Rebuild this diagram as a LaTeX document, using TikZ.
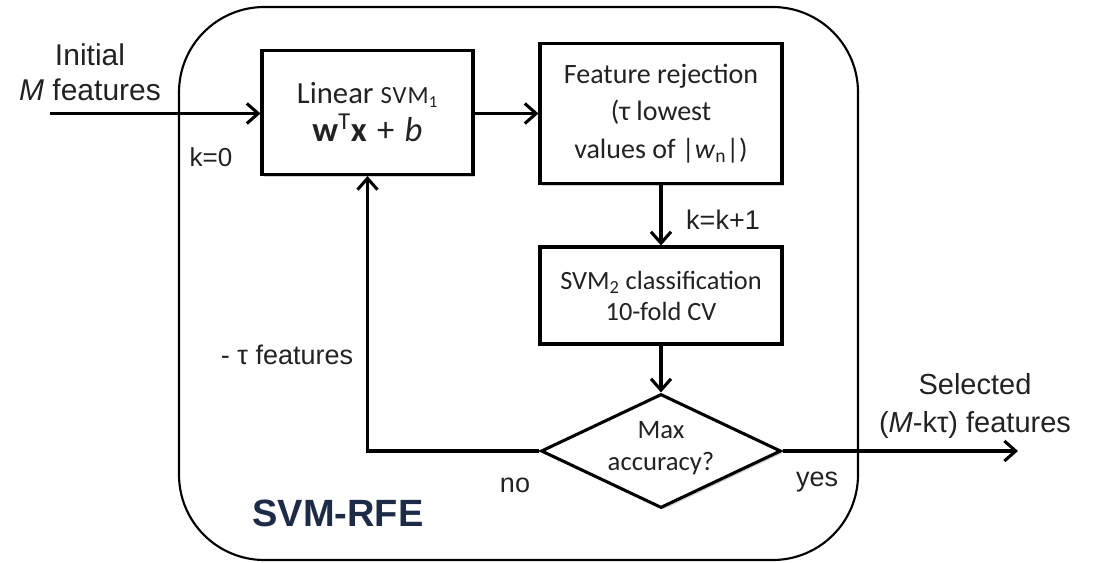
\documentclass[tikz,border=0pt]{standalone}
\usepackage{fontspec}
\setmainfont{Carlito}
\newfontfamily\labelfont{Liberation Sans}
\usetikzlibrary{arrows.meta,shapes.geometric,shadows}
\definecolor{rfeblue}{HTML}{1E2B47}
\definecolor{txt}{HTML}{222222}

\begin{document}
\begin{tikzpicture}[x=0.75pt,y=-0.75pt,
  ink/.style={draw=black, line width=2.3pt},
  boxshadow/.style={drop shadow={shadow xshift=1.6pt, shadow yshift=-1.6pt, opacity=0.3, fill=black!60}},
  procbox/.style={ink, fill=white, align=center, inner sep=0pt, text=txt, boxshadow},
  decision/.style={ink, diamond, fill=white, inner sep=0pt, minimum width=180pt, minimum height=85.5pt, boxshadow},
  flow/.style={line width=2.3pt, -{Straight Barb[length=8.5pt,width=15pt]}},
  note/.style={font=\labelfont\fontsize{20.25pt}{24pt}\selectfont, text=txt, align=center, inner sep=0pt}
]
\useasboundingbox (0,0) rectangle (1099,563);

% SVM-RFE frame
\draw[line width=1.6pt, rounded corners=64pt] (179,7) rectangle (858,560);
\node[font=\labelfont\bfseries\fontsize{28.5pt}{30pt}\selectfont, text=rfeblue, inner sep=0pt] (rfe) at (338,513) {SVM-RFE};

% process steps
\node[procbox, minimum width=158.25pt, minimum height=93pt,
      font=\fontsize{23pt}{28.5pt}\selectfont] (svm1) at (367.5,112.5)
  {Linear {\fontsize{18.5pt}{20pt}\selectfont\addfontfeature{LetterSpace=4}SVM}{\fontsize{18pt}{20pt}\selectfont\textsubscript{1}}\\
   {\fontsize{26pt}{28.5pt}\selectfont\textbf{w}\textsuperscript{T}\textbf{x}\hspace{0.3em}+\hspace{0.3em}\textit{b}}};
\node[procbox, minimum width=181.5pt, minimum height=105pt,
      font=\fontsize{21pt}{28pt}\selectfont] (reject) at (661,113.5)
  {Feature rejection\\(τ lowest\\values of |\textit{w}\textsubscript{n}|)};
\node[procbox, minimum width=181.5pt, minimum height=72.75pt,
      font=\fontsize{19.75pt}{23.25pt}\selectfont] (svm2) at (661,295.5)
  {SVM\textsubscript{2} classification\\10-fold CV};
\node[decision] (dec) at (661,451) {};
\node[font=\fontsize{20pt}{24pt}\selectfont, text=txt, align=center, inner sep=0pt] (dectext) at ([yshift=2pt]dec.center) {Max\\accuracy?};

% free ends of the input and output arrows
\coordinate (in) at (50,113.5);
\coordinate (out) at (1018,451);

% connectors
\draw[flow] (in) -- (svm1.west |- in);
\draw[flow] (svm1.east |- reject.west) -- (reject.west);
\draw[flow] (reject.south) -- (svm2.north);
\draw[flow] (svm2.south) -- (dec.north);
\draw[flow] (dec.west) -| (svm1.south);
\draw[flow] (dec.east) -- (out);

% labels
\node[note, font=\labelfont\fontsize{22.5pt}{26.25pt}\selectfont] (initial) at (90,72) {Initial\\\textit{M} features};
\node[note, font=\labelfont\fontsize{19.5pt}{24pt}\selectfont] (k0) at (211,157) {k=0};
\node[note] (kinc) at (723,220) {k=k+1};
\node[note] (minus) at (287,355) {- τ features};
\node[note] (no) at (515,485) {no};
\node[note] (yes) at (817,482) {yes};
\node[note, font=\labelfont\fontsize{21.75pt}{28.5pt}\selectfont] (selected) at (975,406) {Selected\\(\textit{M}-kτ) features};
\end{tikzpicture}
\end{document}
